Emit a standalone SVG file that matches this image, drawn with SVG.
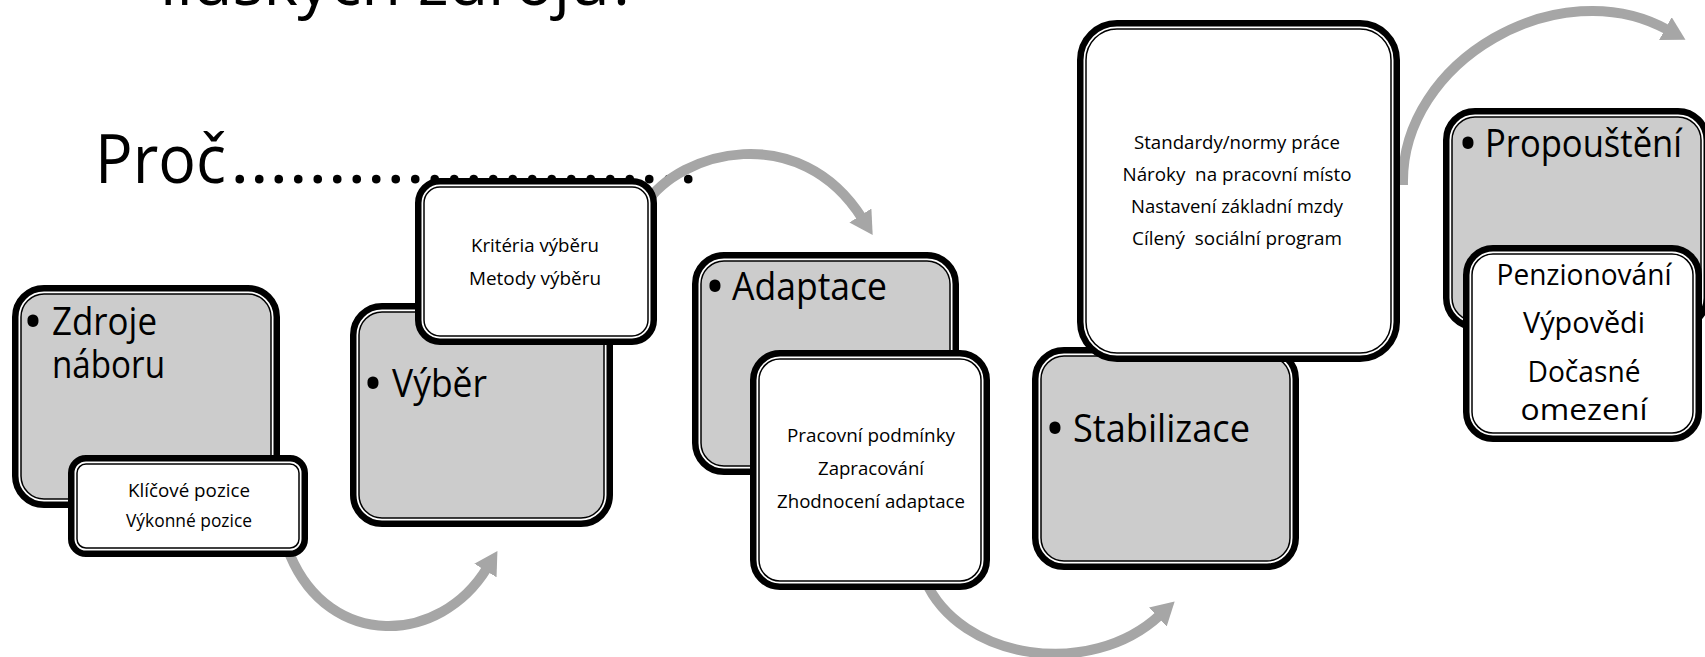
<svg xmlns="http://www.w3.org/2000/svg" width="1705" height="657" viewBox="0 0 1705 657">
<defs>
<style>
text{font-family:"Open Sans","Liberation Sans",sans-serif;fill:#000}
.big{font-size:38px}
.bul{font-size:53px}
.sm{font-size:19px}
.pz{font-size:29px}
.ttl{font-size:68px}
.o{fill:#fff;stroke:#000;stroke-width:6.5}
.i{stroke:#000;stroke-width:1.5}
.g{fill:#cccccc}
.w{fill:#fff}
.arr{fill:none;stroke:#a6a6a6;stroke-width:10;marker-end:url(#ah)}
</style>
<marker id="ah" markerUnits="userSpaceOnUse" markerWidth="24" markerHeight="26" viewBox="0 0 24 26" refX="3" refY="13" orient="auto">
<path d="M0,0 L23,13 L0,26 z" fill="#a6a6a6"/>
</marker>
</defs>
<rect width="1705" height="657" fill="#fff"/>
<g id="title">
<text class="ttl" x="160" y="5" textLength="478" lengthAdjust="spacingAndGlyphs">lidských zdrojů?</text>
<text class="ttl" x="95" y="183" textLength="131" lengthAdjust="spacingAndGlyphs">Proč</text>
<text class="ttl" x="230" y="183" textLength="468" lengthAdjust="spacingAndGlyphs">........................</text>
</g>
<g id="connectors">
<path class="arr" d="M 290 555 C 330 650, 440 645, 487 568"/>
<path class="arr" d="M 645 205 C 680 150, 800 120, 862 218"/>
<path class="arr" d="M 925 580 C 960 660, 1090 680, 1160 615"/>
<path class="arr" d="M 1403 185 C 1400 60, 1560 -30, 1668 30"/>
</g>
<g id="zdroje">
<rect class="o" x="15.25" y="288.25" width="261.5" height="216.5" rx="28.75"/>
<rect class="i g" x="21" y="294" width="250" height="205" rx="23"/>
<text class="bul" x="23" y="340">•</text>
<text class="big"><tspan x="52" y="335" textLength="105" lengthAdjust="spacingAndGlyphs">Zdroje</tspan><tspan x="52" y="378" textLength="113" lengthAdjust="spacingAndGlyphs">náboru</tspan></text>
</g>
<g id="klicove">
<rect class="o" x="71.25" y="458.25" width="233.5" height="95.5" rx="14.75"/>
<rect class="i w" x="77" y="464" width="222" height="84" rx="9"/>
<text class="sm" x="189" y="497" text-anchor="middle" textLength="122" lengthAdjust="spacingAndGlyphs">Klíčové pozice</text>
<text class="sm" x="189" y="527" text-anchor="middle" textLength="126" lengthAdjust="spacingAndGlyphs">Výkonné pozice</text>
</g>
<g id="vyber">
<rect class="o" x="353.25" y="306.25" width="256.5" height="217.5" rx="28.75"/>
<rect class="i g" x="359" y="312" width="245" height="206" rx="23"/>
<text class="bul" x="363" y="402">•</text>
<text class="big" x="392" y="397" textLength="95" lengthAdjust="spacingAndGlyphs">Výběr</text>
</g>
<g id="kriteria">
<rect class="o" x="418.25" y="181.25" width="235.5" height="160.5" rx="21.75"/>
<rect class="i w" x="424" y="187" width="224" height="149" rx="16"/>
<text class="sm" x="535" y="252" text-anchor="middle" textLength="128" lengthAdjust="spacingAndGlyphs">Kritéria výběru</text>
<text class="sm" x="535" y="285" text-anchor="middle" textLength="132" lengthAdjust="spacingAndGlyphs">Metody výběru</text>
</g>
<g id="adaptace">
<rect class="o" x="695.25" y="255.25" width="260.5" height="216.5" rx="28.75"/>
<rect class="i g" x="701" y="261" width="249" height="205" rx="23"/>
<text class="bul" x="705" y="305">•</text>
<text class="big" x="732" y="300" textLength="155" lengthAdjust="spacingAndGlyphs">Adaptace</text>
</g>
<g id="pracovni">
<rect class="o" x="753.25" y="353.25" width="233.5" height="233.5" rx="26.75"/>
<rect class="i w" x="759" y="359" width="222" height="222" rx="21"/>
<text class="sm" x="871" y="442" text-anchor="middle" textLength="168" lengthAdjust="spacingAndGlyphs">Pracovní podmínky</text>
<text class="sm" x="871" y="475" text-anchor="middle" textLength="106" lengthAdjust="spacingAndGlyphs">Zapracování</text>
<text class="sm" x="871" y="508" text-anchor="middle" textLength="188" lengthAdjust="spacingAndGlyphs">Zhodnocení adaptace</text>
</g>
<g id="stabilizace">
<rect class="o" x="1035.25" y="350.25" width="260.5" height="216.5" rx="28.75"/>
<rect class="i g" x="1041" y="356" width="249" height="205" rx="23"/>
<text class="bul" x="1045" y="447">•</text>
<text class="big" x="1073" y="442" textLength="177" lengthAdjust="spacingAndGlyphs">Stabilizace</text>
</g>
<g id="standardy">
<rect class="o" x="1080.25" y="23.25" width="316.5" height="335.5" rx="36.75"/>
<rect class="i w" x="1086" y="29" width="305" height="324" rx="31"/>
<text class="sm" x="1237" y="149" text-anchor="middle" textLength="206" lengthAdjust="spacingAndGlyphs">Standardy/normy práce</text>
<text class="sm" x="1237" y="181" text-anchor="middle" textLength="229" lengthAdjust="spacingAndGlyphs" style="white-space:pre">Nároky  na pracovní místo</text>
<text class="sm" x="1237" y="213" text-anchor="middle" textLength="212" lengthAdjust="spacingAndGlyphs">Nastavení základní mzdy</text>
<text class="sm" x="1237" y="245" text-anchor="middle" textLength="210" lengthAdjust="spacingAndGlyphs" style="white-space:pre">Cílený  sociální program</text>
</g>
<g id="propousteni">
<rect class="o" x="1446.25" y="111.25" width="260.5" height="215.5" rx="28.75"/>
<rect class="i g" x="1452" y="117" width="249" height="204" rx="23"/>
<text class="bul" x="1458" y="162">•</text>
<text class="big" x="1485" y="157" textLength="197" lengthAdjust="spacingAndGlyphs">Propouštění</text>
</g>
<g id="penzionovani">
<rect class="o" x="1466.25" y="248.25" width="232.5" height="190.5" rx="26.75"/>
<rect class="i w" x="1472" y="254" width="221" height="179" rx="21"/>
<text class="pz" x="1584" y="285" text-anchor="middle" textLength="175" lengthAdjust="spacingAndGlyphs">Penzionování</text>
<text class="pz" x="1584" y="333" text-anchor="middle" textLength="122" lengthAdjust="spacingAndGlyphs">Výpovědi</text>
<text class="pz" x="1584" y="382" text-anchor="middle" textLength="113" lengthAdjust="spacingAndGlyphs">Dočasné</text>
<text class="pz" x="1584" y="420" text-anchor="middle" textLength="127" lengthAdjust="spacingAndGlyphs">omezení</text>
</g>
</svg>
